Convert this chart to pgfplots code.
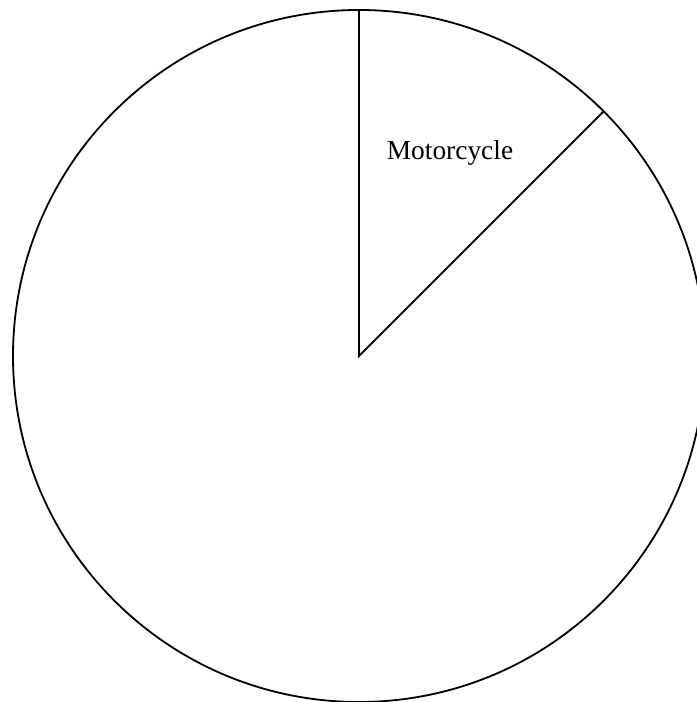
\documentclass[border=0pt]{standalone}
\usepackage{pgfplots}
\pgfplotsset{compat=1.18}
\usepackage{fontspec}
\setmainfont{Liberation Serif}
\begin{document}
\begin{tikzpicture}
\begin{axis}[
  scale only axis,
  width=697bp, height=702bp,
  xmin=-359, xmax=338,
  ymin=-346, ymax=356,
  hide axis,
  clip=true,
]
\path (rel axis cs:0,0) rectangle (rel axis cs:1,1);
% circle of radius 346 (pie outline)
\draw[line width=1.8bp] (axis cs:0,0) circle [radius=346];
% Motorcycle slice: from 90 deg to 45 deg (12.5 %)
\addplot[black, line width=1.8bp, mark=none] coordinates {(0,346) (0,0) (244.66,244.66)};
\node[font=\fontsize{27.5}{33}\selectfont] at (axis cs:91,203) {Motorcycle};
\end{axis}
\end{tikzpicture}
\end{document}
